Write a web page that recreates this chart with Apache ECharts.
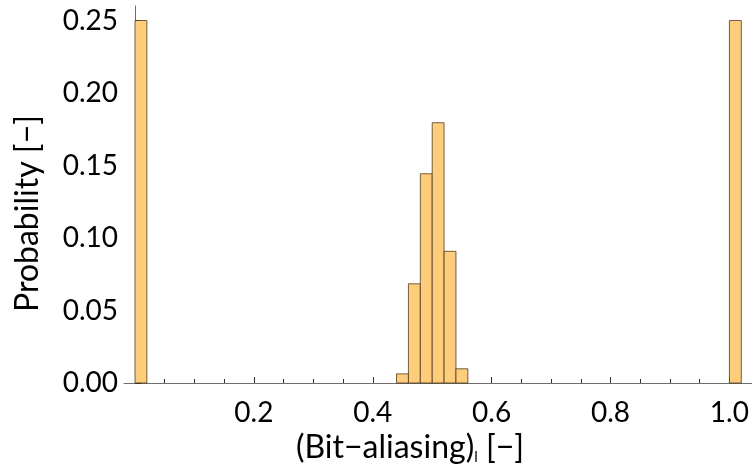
<!DOCTYPE html>
<html>
<head>
<meta charset="utf-8">
<script src="https://cdn.jsdelivr.net/npm/echarts@6/dist/echarts.min.js"></script>
<style>
  html, body { margin: 0; padding: 0; background: #fff; }
  #chart { width: 752px; height: 474px; }
</style>
</head>
<body>
<div id="chart"></div>
<script>
// histogram bins (left edge) and their probability
var binStarts = [0.00, 0.44, 0.46, 0.48, 0.50, 0.52, 0.54, 1.00];
var probabilities = [0.250, 0.0063, 0.0684, 0.1443, 0.1795, 0.0908, 0.0098, 0.250];
var binWidth = 0.02;

var xMajorTicks = [0.2, 0.4, 0.6, 0.8, 1.0];
var xMinorTicks = [0.05, 0.1, 0.15, 0.2, 0.25, 0.3, 0.35, 0.4, 0.45, 0.5, 0.55,
  0.6, 0.65, 0.7, 0.75, 0.8, 0.85, 0.9, 0.95, 1.0];
var yMajorTicks = [0, 0.05, 0.1, 0.15, 0.2, 0.25];
var yMinorTicks = [0.01, 0.02, 0.03, 0.04, 0.06, 0.07, 0.08, 0.09, 0.11, 0.12, 0.13,
  0.14, 0.16, 0.17, 0.18, 0.19, 0.21, 0.22, 0.23, 0.24];

var FONT = 'Lato';
var chart = echarts.init(document.getElementById('chart'));

var barData = binStarts.map(function (s, i) { return [s, s + binWidth, probabilities[i]]; });

var axisColor = '#6e6e6e';

chart.setOption({
  animation: false,
  grid: { left: 124, right: 0, top: 6, bottom: 91 },
  xAxis: [{
    type: 'value', min: -0.0185, max: 1.038, position: 'bottom',
    axisLine: { show: true, lineStyle: { color: axisColor, width: 1 } },
    axisTick: { show: true, inside: true, length: 6, customValues: xMajorTicks,
      lineStyle: { color: '#333' } },
    axisLabel: { customValues: xMajorTicks, margin: 16, color: '#000',
      fontFamily: FONT, fontSize: 28,
      formatter: function (v) { return v.toFixed(1); } },
    splitLine: { show: false },
    name: '(Bit\u2212aliasing){sub|l} [\u2212]',
    nameLocation: 'middle', nameGap: 46,
    nameTextStyle: { color: '#000', fontFamily: FONT, fontSize: 32, padding: [0, 56, 0, 0],
      rich: { sub: { fontFamily: FONT, fontSize: 15, padding: [18, 0, 0, 0] } } }
  }, {
    type: 'value', min: -0.0185, max: 1.038, position: 'bottom', offset: 0,
    axisLine: { show: false },
    axisTick: { show: true, inside: true, length: 4, customValues: xMinorTicks,
      lineStyle: { color: '#333' } },
    axisLabel: { show: false },
    splitLine: { show: false }
  }],
  yAxis: [{
    type: 'value', min: 0, max: 0.26, position: 'left',
    axisLine: { show: true, lineStyle: { color: axisColor, width: 1 } },
    axisTick: { show: true, inside: true, length: 6, customValues: yMajorTicks,
      lineStyle: { color: '#333' } },
    axisLabel: { customValues: yMajorTicks, margin: 6, color: '#000',
      fontFamily: FONT, fontSize: 28,
      formatter: function (v) { return v.toFixed(2); } },
    splitLine: { show: false },
    name: 'Probability [\u2212]',
    nameLocation: 'middle', nameGap: 80, nameRotate: 90,
    nameTextStyle: { color: '#000', fontFamily: FONT, fontSize: 32, padding: [0, 38, 0, 0] }
  }, {
    type: 'value', min: 0, max: 0.26, position: 'left', offset: 0,
    axisLine: { show: false },
    axisTick: { show: true, inside: true, length: 4, customValues: yMinorTicks,
      lineStyle: { color: '#333' } },
    axisLabel: { show: false },
    splitLine: { show: false }
  }],
  series: [{
    type: 'custom',
    xAxisIndex: 0,
    yAxisIndex: 0,
    encode: { x: [0, 1], y: 2 },
    data: barData,
    renderItem: function (params, api) {
      var p0 = api.coord([api.value(0), 0]);
      var p1 = api.coord([api.value(1), api.value(2)]);
      return {
        type: 'rect',
        shape: { x: p0[0], y: p1[1], width: p1[0] - p0[0], height: p0[1] - p1[1] },
        style: { fill: '#fecd7c', stroke: 'rgba(70,50,20,0.75)', lineWidth: 1 }
      };
    }
  }]
});
</script>
</body>
</html>
